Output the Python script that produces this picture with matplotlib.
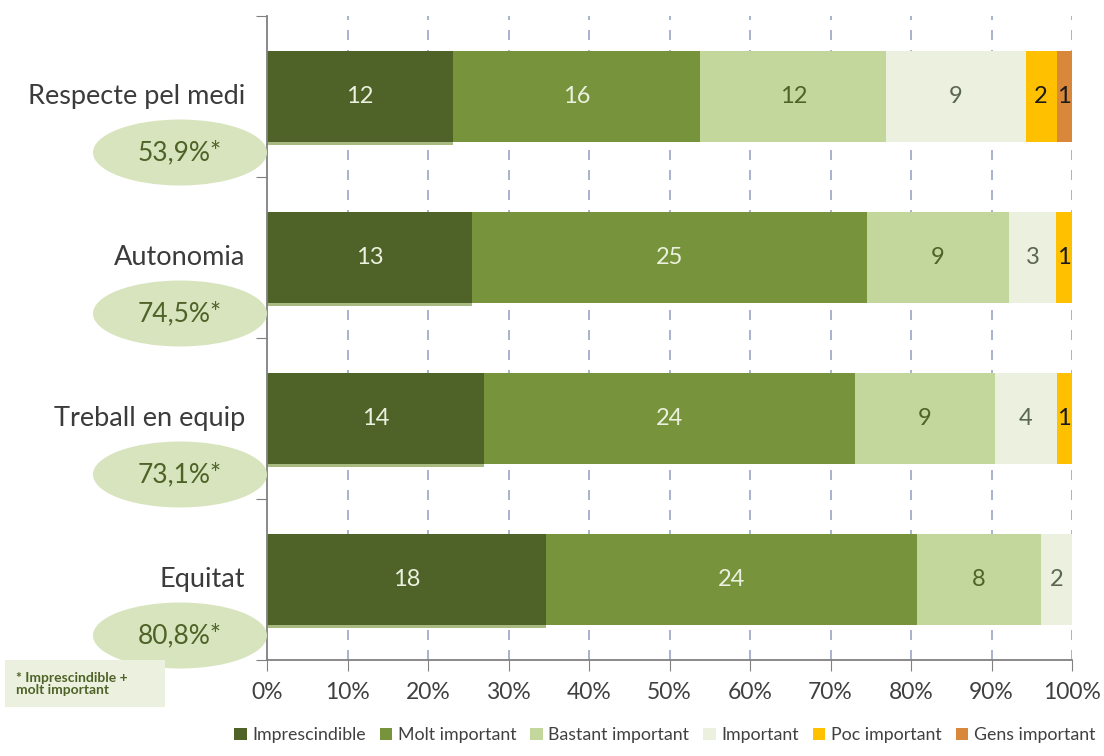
import matplotlib
matplotlib.use("Agg")
import matplotlib.pyplot as plt
from matplotlib.patches import Ellipse, Rectangle, Patch
import numpy as np

plt.rcParams['font.family'] = ['Lato', 'DejaVu Sans']

# dades (nombre de respostes per valoració)
categories = ["Respecte pel medi", "Autonomia", "Treball en equip", "Equitat"]
series_names = ["Imprescindible", "Molt important", "Bastant important",
                "Important", "Poc important", "Gens important"]
imprescindible = [12, 13, 14, 18]
molt_important = [16, 25, 24, 24]
bastant_important = [12, 9, 9, 8]
important = [9, 3, 4, 2]
poc_important = [2, 1, 1, 0]
gens_important = [1, 0, 0, 0]
percent_labels = ["53,9%*", "74,5%*", "73,1%*", "80,8%*"]
xtick_labels = ["0%", "10%", "20%", "30%", "40%", "50%", "60%", "70%", "80%", "90%", "100%"]

colors = ["#4F6228", "#77933C", "#C3D69B", "#EBF1DE", "#FFC000", "#D8873B"]
text_colors = ["#EBF1DE", "#EBF1DE", "#4F6228", "#5B6651", "#1a1a1a", "#1a1a1a"]

data = np.array([imprescindible, molt_important, bastant_important,
                 important, poc_important, gens_important], dtype=float)
totals = data.sum(axis=0)
pct = data / totals * 100

fig = plt.figure(figsize=(11.04, 7.56), dpi=100)
ax = fig.add_axes([267 / 1104, 1 - 660 / 756, (1072 - 267) / 1104, (660 - 16) / 756])

ypos = np.arange(len(categories))[::-1]
bar_h = 0.56

# gridlines
for x in range(10, 101, 10):
    ax.axvline(x, color="#9AA6C6", lw=1.2, ls=(0, (6, 6)), zorder=0)

left = np.zeros(len(categories))
for i, name in enumerate(series_names):
    if i == 0:
        # ombra inferior del primer segment
        ax.barh(ypos - 0.02, pct[i], height=bar_h, left=left,
                color="#6F8B2E", alpha=0.6, zorder=1)
    ax.barh(ypos, pct[i], height=bar_h, left=left, color=colors[i],
            label=name, zorder=2)
    for j in range(len(categories)):
        if data[i, j] > 0:
            ax.text(left[j] + pct[i, j] / 2, ypos[j], "%d" % data[i, j],
                    ha="center", va="center", fontsize=17,
                    color=text_colors[i], zorder=3)
    left += pct[i]

ax.set_xlim(0, 100)
ax.set_ylim(-0.5, 3.5)
ax.set_xticks(np.arange(0, 101, 10))
ax.set_xticklabels(xtick_labels, fontsize=16.5, color="#404040")
ax.set_yticks(np.arange(-0.5, 3.6, 1))
ax.set_yticklabels([])
ax.tick_params(axis="y", direction="out", length=8, color="#808080")
ax.tick_params(axis="x", direction="out", length=8, color="#808080", pad=8)
for s in ["top", "right"]:
    ax.spines[s].set_visible(False)
for s in ["left", "bottom"]:
    ax.spines[s].set_color("#808080")
    ax.spines[s].set_linewidth(1.3)

# etiquetes de categoria i el·lipses amb percentatges
for j, cat in enumerate(categories):
    yc = 1 - (16 + 161 * (j + 0.5)) / 756
    fig.text(245 / 1104, yc, cat, ha="right", va="center",
             fontsize=19.5, color="#3B3B3B")
    ey = yc - 56 / 756
    fig.patches.append(Ellipse((180 / 1104, ey), 174 / 1104, 66 / 756,
                               transform=fig.transFigure, facecolor="#D7E4BD",
                               edgecolor="none", zorder=0))
    fig.text(180 / 1104, ey, percent_labels[j], ha="center", va="center",
             fontsize=19, color="#4F6228")

# nota al peu
fig.patches.append(Rectangle((5 / 1104, 1 - 707 / 756), 160 / 1104, 47 / 756,
                             transform=fig.transFigure, facecolor="#EBF1DE",
                             edgecolor="none"))
fig.text(16 / 1104, 1 - 684 / 756, "* Imprescindible +\nmolt important",
         ha="left", va="center", fontsize=10, color="#4F6228",
         fontweight="bold", linespacing=1.1)

handles = [Patch(facecolor=c, edgecolor="none") for c in colors]
fig.legend(handles, series_names, loc="center", bbox_to_anchor=(0.602, 1 - 735 / 756),
           ncol=6, frameon=False, fontsize=12.8, handlelength=0.7, handleheight=0.7,
           handletextpad=0.3, columnspacing=0.8, labelcolor="#404040")

fig.savefig("out.png", dpi=100)
